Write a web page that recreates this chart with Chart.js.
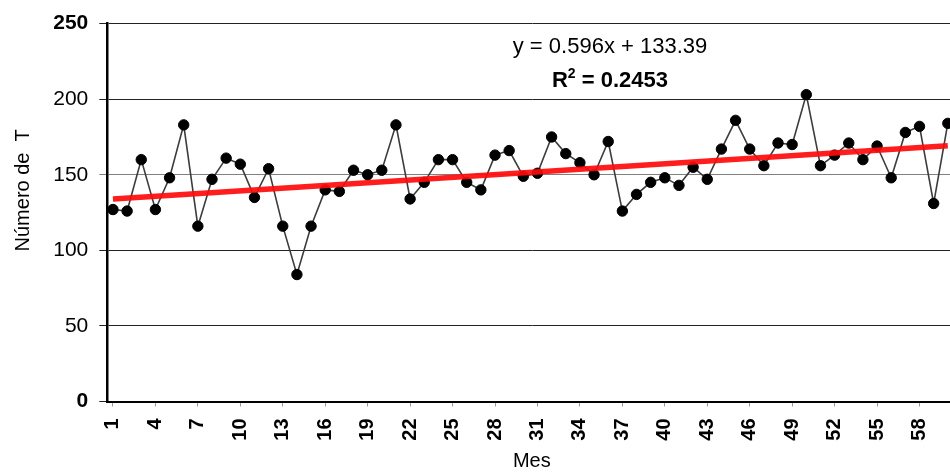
<!DOCTYPE html>
<html>
<head>
<meta charset="utf-8">
<script src="https://cdn.jsdelivr.net/npm/chart.js@4.4.1/dist/chart.umd.min.js"></script>
<style>
  html, body { margin: 0; padding: 0; background: #fff; overflow: hidden; }
  #wrap { width: 970px; height: 473px; }
</style>
</head>
<body>
<div id="wrap"><canvas id="chart"></canvas></div>
<script>
// monthly counts, month 1 .. 60
const months = [1, 2, 3, 4, 5, 6, 7, 8, 9, 10, 11, 12, 13, 14, 15, 16, 17, 18, 19, 20,
  21, 22, 23, 24, 25, 26, 27, 28, 29, 30, 31, 32, 33, 34, 35, 36, 37, 38, 39, 40,
  41, 42, 43, 44, 45, 46, 47, 48, 49, 50, 51, 52, 53, 54, 55, 56, 57, 58, 59, 60]
const counts = [127, 126, 160, 127, 148, 183, 116, 147, 161, 157,
  135, 154, 116, 84, 116, 140, 139, 153, 150, 153,
  183, 134, 145, 160, 160, 145, 140, 163, 166, 149,
  151, 175, 164, 158, 150, 172, 126, 137, 145, 148,
  143, 155, 147, 167, 186, 167, 156, 171, 170, 203,
  156, 163, 171, 160, 169, 148, 178, 182, 131, 184]

// x axis labels every third month
const xTicks = [1, 4, 7, 10, 13, 16, 19, 22, 25, 28, 31, 34, 37, 40, 43, 46, 49, 52, 55, 58]
const yTicks = [0, 50, 100, 150, 200, 250]

// linear trend
const slope = 0.596
const intercept = 133.39
const r2 = 0.2453

const trendX = [months[0], months[months.length - 1]]

const FONT = '"Liberation Sans", Arial, sans-serif'

const equationLabel = {
  id: 'equationLabel',
  afterDatasetsDraw(chart) {
    const c = chart.ctx
    const cx = 610
    c.save()
    c.fillStyle = '#000'
    c.textBaseline = 'alphabetic'

    c.font = '22px ' + FONT
    c.textAlign = 'center'
    c.fillText('y = ' + slope + 'x + ' + intercept, cx, 53)

    // R² line, bold with a raised 2
    const big = 'bold 22px ' + FONT
    const small = 'bold 14px ' + FONT
    const rest = ' = ' + r2
    c.font = big
    const wR = c.measureText('R').width
    const wRest = c.measureText(rest).width
    c.font = small
    const w2 = c.measureText('2').width
    let x = cx - (wR + w2 + wRest) / 2
    c.textAlign = 'left'
    c.font = big
    c.fillText('R', x, 87)
    x += wR
    c.font = small
    c.fillText('2', x, 78)
    x += w2
    c.font = big
    c.fillText(rest, x, 87)
    c.restore()
  }
}

const ctx = document.getElementById('chart').getContext('2d')

new Chart(ctx, {
  type: 'line',
  data: {
    datasets: [
      {
        label: 'Tendencia',
        data: trendX.map(x => ({ x: x, y: slope * x + intercept })),
        borderColor: 'rgba(255, 10, 10, 0.92)',
        borderWidth: 5.5,
        pointRadius: 0,
        order: 0
      },
      {
        label: 'Número de T',
        data: months.map((m, i) => ({ x: m, y: counts[i] })),
        borderColor: '#3c3c3c',
        borderWidth: 1.6,
        pointRadius: 5.2,
        pointBackgroundColor: '#000',
        pointBorderColor: '#000',
        pointBorderWidth: 1,
        tension: 0,
        order: 1
      }
    ]
  },
  plugins: [equationLabel],
  options: {
    responsive: true,
    maintainAspectRatio: false,
    animation: false,
    layout: { padding: { left: 0, top: 18.5, right: 13.7, bottom: 0 } },
    plugins: {
      legend: { display: false },
      tooltip: { enabled: false }
    },
    scales: {
      x: {
        type: 'linear',
        min: 0.6,
        max: 60.6,
        afterBuildTicks: scale => { scale.ticks = xTicks.map(v => ({ value: v })) },
        afterFit: scale => { scale.height = 71.5 },
        grid: {
          drawOnChartArea: false,
          drawTicks: true,
          tickLength: 5,
          color: '#999'
        },
        border: { display: true, color: '#000', width: 2 },
        ticks: {
          autoSkip: false,
          minRotation: 90,
          maxRotation: 90,
          padding: 12,
          color: '#000',
          font: { family: FONT, size: 20, weight: 'bold' },
          callback: v => String(v)
        },
        title: {
          display: true,
          text: 'Mes',
          color: '#000',
          font: { family: FONT, size: 20 },
          padding: { top: 0, bottom: 0 }
        }
      },
      y: {
        min: 0,
        max: 250,
        afterBuildTicks: scale => { scale.ticks = yTicks.map(v => ({ value: v })) },
        afterFit: scale => { scale.width = 107.3 },
        grid: {
          color: c => (c.tick && c.tick.value === 150 ? '#808080' : '#222'),
          lineWidth: 1,
          tickLength: 8
        },
        border: { display: true, color: '#000', width: 2.5 },
        ticks: {
          padding: 11,
          color: '#000',
          font: c => ({
            family: FONT,
            size: 21,
            weight: (c.tick && (c.tick.value === 250 || c.tick.value === 0)) ? 'bold' : 'normal'
          })
        },
        title: {
          display: true,
          text: '        Número de  T',
          color: '#000',
          font: { family: FONT, size: 20 },
          padding: { top: 11, bottom: 11 }
        }
      }
    }
  }
})
</script>
</body>
</html>
